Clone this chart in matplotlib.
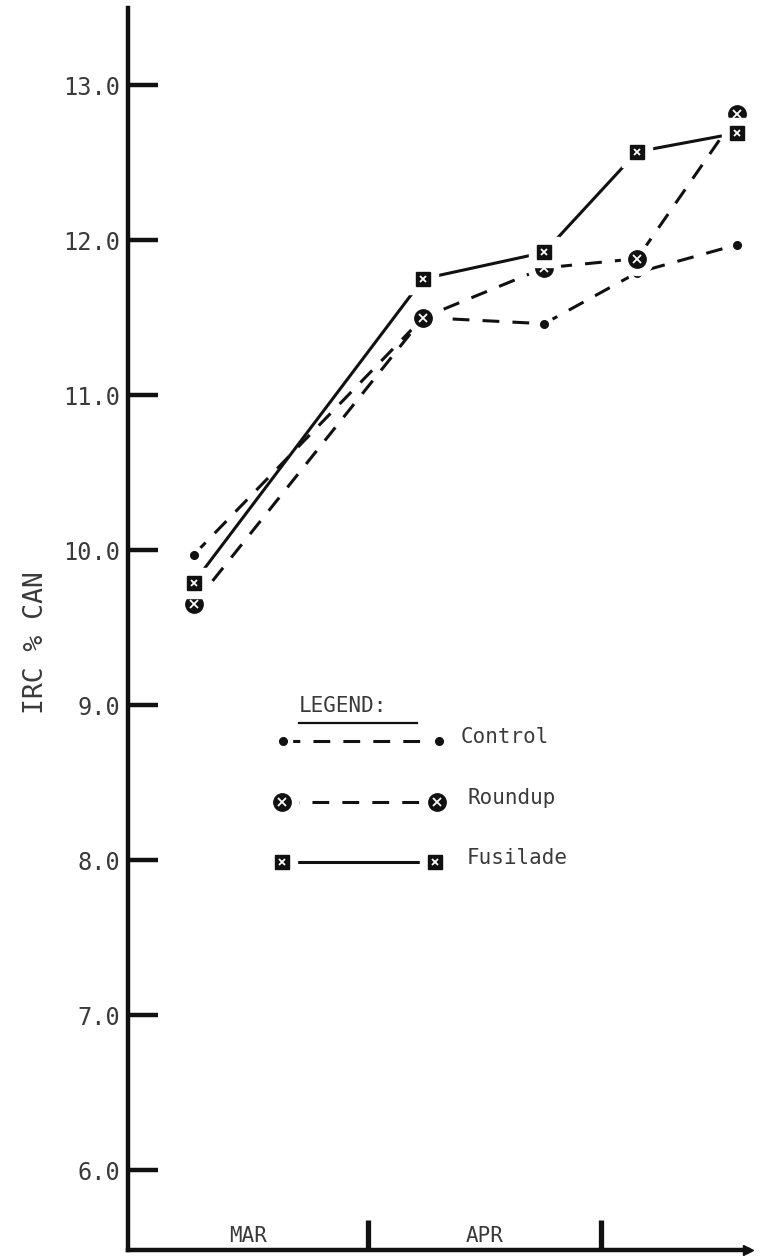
import matplotlib
matplotlib.use("Agg")
import matplotlib.pyplot as plt
from matplotlib.transforms import blended_transform_factory

# Sampling dates, as day counts from 1 March
sample_day = [8.5, 38.1, 53.7, 65.7, 78.6]

# Measured values per treatment
control = [9.97, 11.50, 11.46, 11.79, 11.97]
roundup = [9.65, 11.50, 11.82, 11.88, 12.81]
fusilade = [9.79, 11.75, 11.92, 12.57, 12.69]

series_names = ["Control", "Roundup", "Fusilade"]
y_ticks = [6.0, 7.0, 8.0, 9.0, 10.0, 11.0, 12.0, 13.0]
month_names = ["MAR", "APR"]
month_starts = [0, 31, 61]
y_label = "IRC % CAN"

INK = "#111111"
TEXT = "#3a3a3a"
MONO = ["DejaVu Sans Mono"]

styles = {
    "Control": dict(marker="o", ms=5.5, ls=(0, (5.5, 4.3)), halo=13, scribble=False),
    "Roundup": dict(marker="o", ms=12.5, ls=(0, (5.5, 4.3)), halo=23, scribble=True),
    "Fusilade": dict(marker="s", ms=10.5, ls="-", halo=21, scribble=True),
}

fig = plt.figure(figsize=(7.66, 12.6), dpi=100)
ax = fig.add_axes([128 / 766, 10 / 1260, 620 / 766, 1242 / 1260])
ax.set_xlim(0, 80)
ax.set_ylim(5.484, 13.497)


def draw_series(xs, ys, name, transform, z):
    st = styles[name]
    kw = dict(transform=transform, clip_on=False)
    ax.plot(xs, ys, color=INK, lw=2.2, ls=st["ls"], zorder=z, **kw)
    # white ring so lines stop short of the symbols
    ax.plot(xs, ys, ls="none", marker=st["marker"], ms=st["halo"],
            mfc="white", mec="white", zorder=z + 0.1, **kw)
    ax.plot(xs, ys, ls="none", marker=st["marker"], ms=st["ms"],
            mfc=INK, mec=INK, zorder=z + 0.2, **kw)
    if st["scribble"]:
        ax.plot(xs, ys, ls="none", marker="x", ms=st["ms"] * 0.45,
                mec="white", mew=1.3, zorder=z + 0.3, **kw)


data = {"Control": control, "Roundup": roundup, "Fusilade": fusilade}
for i, name in enumerate(series_names):
    draw_series(sample_day, data[name], name, ax.transData, 3 + i)

# Axes frame: only left and bottom
for side in ("top", "right"):
    ax.spines[side].set_visible(False)
for side in ("left", "bottom"):
    ax.spines[side].set_linewidth(3.2)
    ax.spines[side].set_color(INK)
ax.plot([1.0], [0.0], marker=">", ms=7, color=INK, transform=ax.transAxes,
        clip_on=False, zorder=6)

ax.set_yticks(y_ticks)
ax.set_yticklabels([f"{v:.1f}" for v in y_ticks], family=MONO, fontsize=17, color=TEXT)
ax.tick_params(axis="y", direction="in", length=21.5, width=3.2, pad=5.5, color=INK)

ax.set_xticks(month_starts[1:])
ax.set_xticklabels([])
ax.tick_params(axis="x", direction="in", length=21.5, width=3.8, color=INK)

# Month names sit inside the frame, centred on each month
tr = blended_transform_factory(ax.transData, ax.transAxes)
for name, a, b in zip(month_names, month_starts[:-1], month_starts[1:]):
    ax.text((a + b) / 2, 0.0115, name, transform=tr, ha="center", va="center",
            family=MONO, fontsize=15, color=TEXT)

ax.set_ylabel(y_label, family=MONO, fontsize=19, color=TEXT)
ax.yaxis.set_label_coords(-0.127, 0.489)

# Hand-set legend block
ta = ax.transAxes
ax.text(0.2758, 0.4384, "LEGEND:", transform=ta, ha="left", va="center",
        family=MONO, fontsize=15, color=TEXT)
ax.plot([0.2758, 0.466], [0.4243, 0.4243], color=INK, lw=1.6, transform=ta)

legend_rows = [0.4098, 0.3607, 0.3124]
legend_x = {"Control": (0.250, 0.5016), "Roundup": (0.2484, 0.4984), "Fusilade": (0.2484, 0.4952)}
text_x = {"Control": 0.537, "Roundup": 0.5468, "Fusilade": 0.5468}
for name, yr in zip(series_names, legend_rows):
    draw_series(list(legend_x[name]), [yr, yr], name, ta, 7)
    ax.text(text_x[name], yr + 0.003, name, transform=ta, ha="left", va="center",
            family=MONO, fontsize=15, color=TEXT)

fig.savefig("out.png", dpi=100)
